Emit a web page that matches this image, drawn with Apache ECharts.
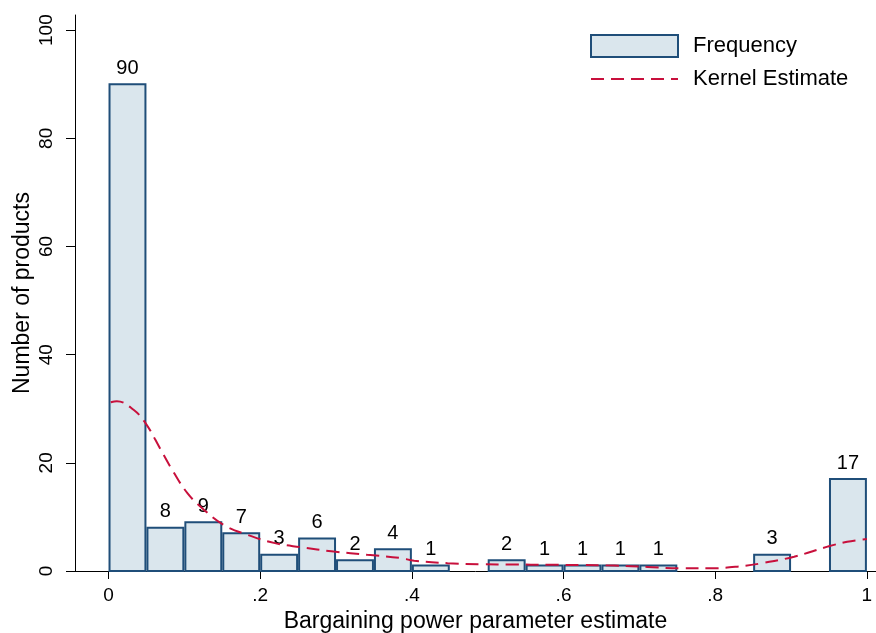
<!DOCTYPE html>
<html>
<head>
<meta charset="utf-8">
<script src="https://cdn.jsdelivr.net/npm/echarts@6/dist/echarts.min.js"></script>
<style>html,body{margin:0;padding:0;background:#fff}#c{width:876px;height:633px}</style>
</head>
<body>
<div id="c"></div>
<script>
const binStarts = [0,0.05,0.1,0.15,0.2,0.25,0.3,0.35,0.4,0.45,0.5,0.55,0.6,0.65,0.7,0.75,0.8,0.85,0.9,0.95];
const binWidth = 0.05;
const counts = [90,8,9,7,3,6,2,4,1,0,2,1,1,1,1,0,0,3,0,17];
const kernelX = [0.003,0.011,0.033,0.049,0.069,0.084,0.104,0.126,0.152,0.183,0.218,0.253,0.297,0.341,0.385,0.403,0.447,0.491,0.535,0.579,0.623,0.667,0.711,0.755,0.794,0.829,0.860,0.904,0.948,0.974,1.0];
const kernelY = [31.2,31.4,29.8,27.3,22.4,18.7,14.4,11.3,8.5,6.7,5.2,4.4,3.6,3.0,2.4,1.9,1.45,1.25,1.2,1.15,1.1,1.0,0.75,0.5,0.5,0.8,1.4,2.65,4.5,5.4,5.9];
const xTicks = [0,0.2,0.4,0.6,0.8,1];
const xTickLabels = ['0','.2','.4','.6','.8','1'];
const yTicks = [0,20,40,60,80,100];
const yTickLabels = ['0','20','40','60','80','100'];

const FONT = 'Liberation Sans, Arial, Helvetica, sans-serif';
const fillC = '#dae6ed', strokeC = '#1f4e79', redC = '#c8103c';

const histData = binStarts.map((s,i)=>[s, s+binWidth, counts[i]]).filter(d=>d[2]>0);
const kernelData = kernelX.map((x,i)=>[x, kernelY[i]]);

const chart = echarts.init(document.getElementById('c'));
chart.setOption({
  animation:false,
  backgroundColor:'#fff',
  grid:{left:75, right:0, top:15, bottom:62, containLabel:false, outerBoundsMode:'none'},
  legend:{
    left:590, top:34, orient:'vertical', itemWidth:87, itemHeight:22, itemGap:10, padding:0,
    textStyle:{fontFamily:FONT, fontSize:22, color:'#000', padding:[0,0,0,10]},
    data:[
      {name:'Frequency', icon:'rect', itemStyle:{color:fillC, borderColor:strokeC, borderWidth:2}},
      {name:'Kernel Estimate', itemStyle:{color:'rgba(0,0,0,0)', borderWidth:0, opacity:0}}
    ]
  },
  xAxis:{
    type:'value', min:-0.0442, max:1.012,
    name:'Bargaining power parameter estimate', nameLocation:'middle', nameGap:36,
    nameTextStyle:{fontFamily:FONT, fontSize:23, color:'#000'},
    axisLine:{show:true, onZero:false, lineStyle:{color:'#000', width:1}},
    axisTick:{show:true, length:8, customValues:xTicks, lineStyle:{color:'#000'}},
    axisLabel:{customValues:xTicks, margin:15, fontFamily:FONT, fontSize:19, color:'#000',
      formatter:(v)=>{const i=xTicks.findIndex(t=>Math.abs(t-v)<1e-9); return i>=0?xTickLabels[i]:'';}},
    splitLine:{show:false}
  },
  yAxis:{
    type:'value', min:0, max:102.8,
    name:'Number of products', nameLocation:'middle', nameGap:41, nameMoveOverlap:false,
    nameTextStyle:{fontFamily:FONT, fontSize:23, color:'#000'},
    axisLine:{show:true, onZero:false, lineStyle:{color:'#000', width:1}},
    axisTick:{show:true, length:9, customValues:yTicks, lineStyle:{color:'#000'}},
    axisLabel:{customValues:yTicks, rotate:90, margin:19, fontFamily:FONT, fontSize:19, color:'#000',
      formatter:(v)=>{const i=yTicks.findIndex(t=>Math.abs(t-v)<1e-9); return i>=0?yTickLabels[i]:'';}},
    splitLine:{show:false}
  },
  series:[
    {
      name:'Frequency', type:'custom', data:histData,
      itemStyle:{color:fillC, borderColor:strokeC},
      encode:{x:[0,1], y:2},
      renderItem:(params, api)=>{
        const x0=api.value(0), x1=api.value(1), v=api.value(2);
        const p0=api.coord([x0,v]), p1=api.coord([x1,0]);
        return {type:'group', children:[
          {type:'rect', shape:{x:p0[0]+1, y:p0[1], width:p1[0]-p0[0]-2, height:p1[1]-p0[1]},
            style:{fill:fillC, stroke:strokeC, lineWidth:2}},
          {type:'text', style:{text:String(v), x:(p0[0]+p1[0])/2, y:p0[1]-6, align:'center', verticalAlign:'bottom',
            fontFamily:FONT, fontSize:20, fill:'#000'}}
        ]};
      },
      z:2
    },
    {
      name:'Kernel Estimate', type:'line', data:kernelData, smooth:0.4, showSymbol:false, symbol:'none',
      lineStyle:{color:redC, width:2, type:[13,7]}, itemStyle:{color:redC}, z:3
    }
  ]
});
</script>
</body>
</html>
